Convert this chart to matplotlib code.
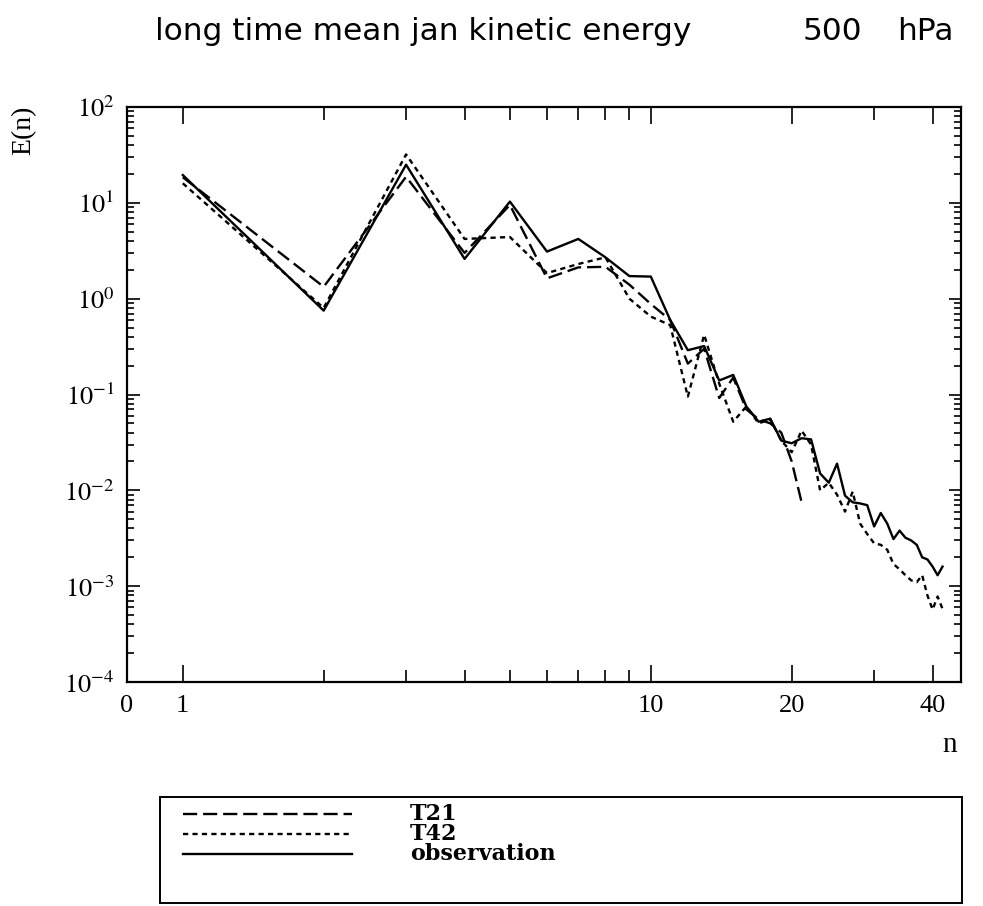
import numpy as np
import matplotlib
matplotlib.use("Agg")
import matplotlib.pyplot as plt
from matplotlib.ticker import FixedLocator, LogLocator, NullFormatter

plt.rcParams['mathtext.fontset'] = 'stix'

# wavenumber n and energy spectra E(n)
n_t21 = np.arange(1, 22)
n_t42 = np.arange(1, 43)
n_obs = np.arange(1, 43)

t21 = [18.5, 1.33, 18.7, 3.0, 9.5, 1.63, 2.12, 2.15, 1.4, 0.88,
       0.6, 0.21, 0.3, 0.092, 0.15, 0.07, 0.055, 0.05, 0.04, 0.02,
       0.0075]

t42 = [16, 0.8, 32, 4.2, 4.4, 1.85, 2.3, 2.7, 1.0, 0.65,
       0.53, 0.095, 0.42, 0.13, 0.052, 0.075, 0.05, 0.055, 0.033, 0.025,
       0.042, 0.03, 0.01, 0.012, 0.009, 0.006, 0.0097, 0.0045, 0.0035, 0.0028,
       0.0027, 0.0024, 0.0017, 0.0015, 0.0013, 0.00115, 0.0011, 0.0013, 0.0008, 0.00057,
       0.00078, 0.00058]

obs = [19.5, 0.75, 25, 2.6, 10.3, 3.1, 4.2, 2.7, 1.72, 1.7,
       0.6, 0.29, 0.32, 0.14, 0.16, 0.075, 0.052, 0.056, 0.033, 0.031,
       0.035, 0.034, 0.015, 0.012, 0.019, 0.0088, 0.0075, 0.0073, 0.007, 0.0042,
       0.0058, 0.0045, 0.0031, 0.0038, 0.0032, 0.003, 0.0027, 0.002, 0.0019, 0.0016,
       0.0013, 0.0016]

labels = ['T21', 'T42', 'observation']
styles = [(0, (6, 2.5)), (0, (2.2, 1.8)), '-']

fig = plt.figure(figsize=(9.83, 9.06), dpi=100)
ax = fig.add_axes([127/983, 1-682/906, 834/983, 575/906])

for xs, ys, ls in zip([n_t21, n_t42, n_obs], [t21, t42, obs], styles):
    ax.plot(xs, ys, color='black', lw=1.7, linestyle=ls)

ax.set_xscale('log')
ax.set_yscale('log')
ax.set_xlim(0.76, 46)
ax.set_ylim(1e-4, 1e2)

# x ticks: label 0 sits on the left frame
ax.xaxis.set_major_locator(FixedLocator([0.76, 1, 10, 20, 40]))
ax.set_xticklabels(['0', '1', '10', '20', '40'])
ax.xaxis.set_minor_locator(FixedLocator([2, 3, 4, 5, 6, 7, 8, 9, 30]))
ax.xaxis.set_minor_formatter(NullFormatter())
ax.yaxis.set_minor_locator(LogLocator(base=10, subs=np.arange(2, 10), numticks=10))
ax.yaxis.set_minor_formatter(NullFormatter())
ax.set_yticks([1e2, 1e1, 1e0, 1e-1, 1e-2, 1e-3, 1e-4])
ax.set_yticklabels(['$10^{2}$', '$10^{1}$', '$10^{0}$', '$10^{-1}$',
                    '$10^{-2}$', '$10^{-3}$', '$10^{-4}$'])

ax.tick_params(which='both', direction='in', top=True, right=True, width=1.2)
ax.tick_params(which='major', length=9, labelsize=19, pad=9)
ax.tick_params(which='minor', length=5)
ax.tick_params(axis='x', which='major', length=12)
ax.tick_params(axis='x', which='minor', length=9)
for lab in ax.get_xticklabels() + ax.get_yticklabels():
    lab.set_family('Liberation Serif')
ax.get_xticklines()[0].set_visible(False)
ax.get_xticklines()[1].set_visible(False)
for sp in ax.spines.values():
    sp.set_linewidth(1.6)

fig.text(24/983, 1-130/906, 'E(n)', rotation=90, ha='center', va='center',
         fontsize=20, family='Liberation Serif')
fig.text(950/983, 1-745/906, 'n', ha='center', va='center',
         fontsize=21, family='Liberation Serif')

fig.text(155/983, 1-32/906, 'long time mean jan kinetic energy', ha='left', va='center',
         fontsize=22.5, family='DejaVu Sans')
fig.text(803/983, 1-32/906, '500', ha='left', va='center',
         fontsize=22.5, family='DejaVu Sans')
fig.text(897/983, 1-32/906, 'hPa', ha='left', va='center',
         fontsize=22.5, family='DejaVu Sans')

# legend box
lax = fig.add_axes([160/983, 1-903/906, 802/983, 106/906])
lax.set_xlim(160, 962)
lax.set_ylim(903, 797)
lax.set_xticks([])
lax.set_yticks([])
for sp in lax.spines.values():
    sp.set_linewidth(1.4)
for i, (lab, ls) in enumerate(zip(labels, styles)):
    y = 814 + 20 * i
    lax.plot([183, 352], [y, y], color='black', lw=1.7, linestyle=ls)
    lax.text(410, y, lab, ha='left', va='center', fontsize=16,
             family='DejaVu Serif', fontweight='bold')

fig.savefig('out.png', dpi=100)
